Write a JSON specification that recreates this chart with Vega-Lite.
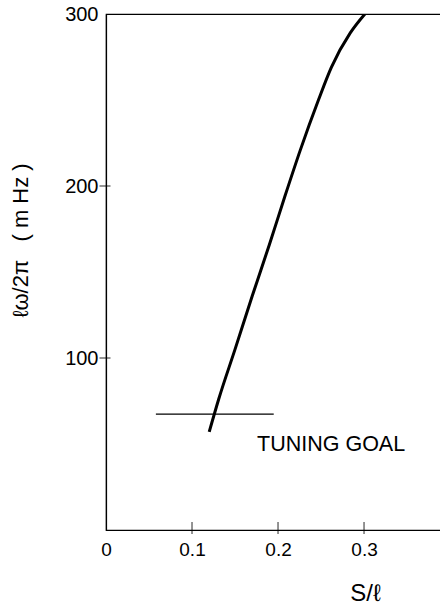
{
  "$schema": "https://vega.github.io/schema/vega-lite/v6.json",
  "autosize": {"type": "none"},
  "padding": {"left": 106, "top": 14, "right": 0, "bottom": 77},
  "width": 340,
  "height": 516,
  "background": "white",
  "config": {
    "view": {"stroke": "black", "strokeWidth": 1.2},
    "font": "Liberation Sans",
    "axis": {
      "grid": false,
      "domainColor": "black",
      "domainWidth": 1.2,
      "ticks": false,
      "labelColor": "black",
      "titleColor": "black",
      "labelFont": "Liberation Sans",
      "titleFont": "Liberation Sans",
      "titleFontWeight": "normal",
      "labelFlush": false,
      "labelOverlap": false,
      "labelBound": false
    }
  },
  "datasets": {
    "curve": [
      {"s": 0.120, "f": 57},
      {"s": 0.131, "f": 76},
      {"s": 0.150, "f": 105},
      {"s": 0.170, "f": 136},
      {"s": 0.190, "f": 166},
      {"s": 0.208, "f": 194},
      {"s": 0.226, "f": 221},
      {"s": 0.247, "f": 250},
      {"s": 0.262, "f": 269},
      {"s": 0.284, "f": 289},
      {"s": 0.301, "f": 300}
    ],
    "goal": [{"s1": 0.058, "s2": 0.195, "f": 67.4, "label": "TUNING GOAL", "ls": 0.1756, "lf": 49.4}],
    "xticks": [{"s": 0.1}, {"s": 0.2}, {"s": 0.3}],
    "yticks": [{"f": 100}, {"f": 200}]
  },
  "layer": [
    {
      "data": {"name": "curve"},
      "mark": {"type": "line", "color": "black", "strokeWidth": 3, "interpolate": "monotone", "clip": true},
      "encoding": {
        "x": {
          "field": "s", "type": "quantitative",
          "scale": {"domain": [0, 0.3953], "nice": false, "zero": false},
          "axis": {
            "values": [0, 0.1, 0.2, 0.3],
            "labelExpr": "datum.value == 0 ? '0' : format(datum.value, '.1f')",
            "labelFontSize": 19,
            "labelPadding": 10,
            "title": "S/ℓ",
            "titleFontSize": 24,
            "titleX": 259,
            "titleY": 63,
            "titleAnchor": null,
            "titleBaseline": "middle",
            "titleAlign": "center"
          }
        },
        "y": {
          "field": "f", "type": "quantitative",
          "scale": {"domain": [0, 300], "nice": false},
          "axis": {
            "values": [100, 200, 300],
            "labelFontSize": 20,
            "labelPadding": 8,
            "title": "ℓω/2π\u00a0\u00a0\u00a0(\u00a0m\u00a0Hz\u00a0)",
            "titleFontSize": 22,
            "titleX": -86,
            "titleY": 226,
            "titleAngle": 270,
            "titleAlign": "center",
            "titleBaseline": "middle"
          }
        }
      }
    },
    {
      "data": {"name": "goal"},
      "mark": {"type": "rule", "color": "black", "strokeWidth": 1.2},
      "encoding": {
        "x": {"field": "s1", "type": "quantitative"},
        "x2": {"field": "s2"},
        "y": {"field": "f", "type": "quantitative"}
      }
    },
    {
      "data": {"name": "goal"},
      "mark": {"type": "text", "align": "left", "baseline": "middle", "fontSize": 21.5, "color": "black", "font": "Liberation Sans"},
      "encoding": {
        "x": {"field": "ls", "type": "quantitative"},
        "y": {"field": "lf", "type": "quantitative"},
        "text": {"field": "label"}
      }
    },
    {
      "data": {"name": "xticks"},
      "mark": {"type": "tick", "orient": "vertical", "color": "black", "size": 12, "thickness": 1.2, "yOffset": -2},
      "encoding": {
        "x": {"field": "s", "type": "quantitative"},
        "y": {"datum": 0, "type": "quantitative"}
      }
    },
    {
      "data": {"name": "yticks"},
      "mark": {"type": "tick", "orient": "horizontal", "color": "black", "size": 11, "thickness": 1.2, "xOffset": -1},
      "encoding": {
        "y": {"field": "f", "type": "quantitative"},
        "x": {"datum": 0, "type": "quantitative"}
      }
    }
  ]
}
